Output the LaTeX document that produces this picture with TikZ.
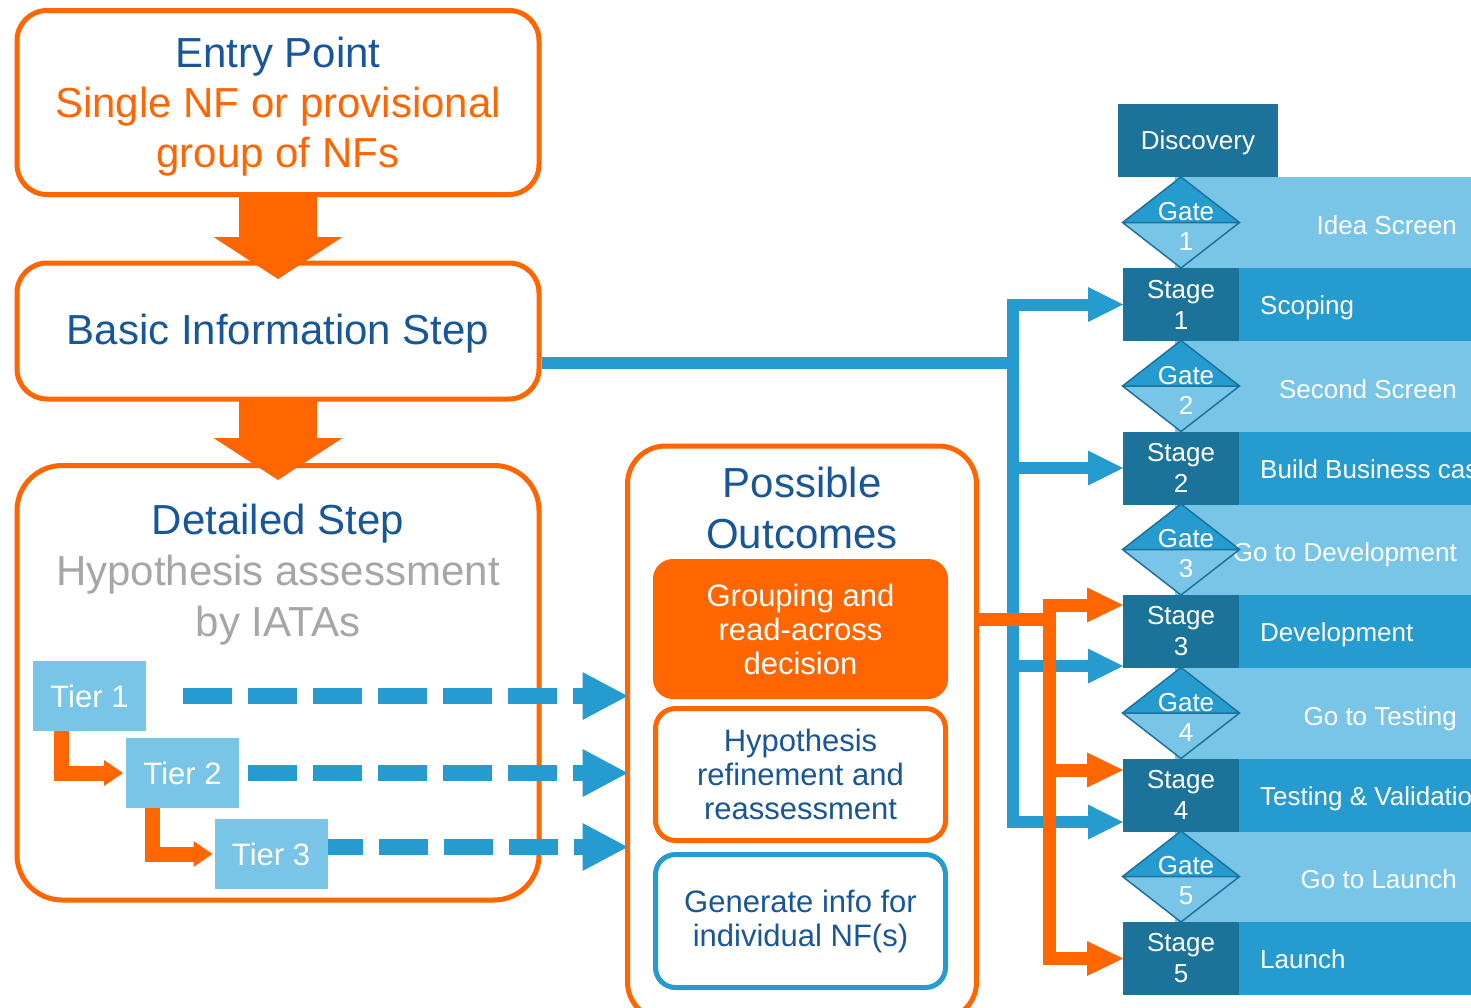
\documentclass[tikz,border=0pt]{standalone}
\usepackage{fontspec}
\setmainfont{Liberation Sans}
\usetikzlibrary{arrows.meta,calc,positioning}

\newcommand{\fs}[2]{\fontsize{#1}{#2}\selectfont}

\newcommand{\gaterow}[3]% centre y, number, label
{\fill[lightband] (1175,#1-45.5) rectangle (1471,#1+45.5);
\node[bandtext, anchor=east] (gl#2) at (1457,#1+5) {#3};
\fill[lightband] (1122.5,#1) -- (1181,#1+45.5) -- (1239.5,#1) -- cycle;
\fill[midband] (1122.5,#1) -- (1181,#1-45.5) -- (1239.5,#1) -- cycle;
\draw[gateline] (1122.5,#1) -- (1181,#1-45.5) -- (1239.5,#1) -- (1181,#1+45.5) -- cycle
  (1122.5,#1) -- (1239.5,#1);
\node[gatetext] (gate#2) at (1186,#1+4) {Gate\\#2};
}

\newcommand{\stagerow}[3]% centre y, number, label
{\fill[midband] (1239,#1-36.5) rectangle (1471,#1+36.5);
\node[stagebox] (st#2) at (1181,#1) {Stage\\#2};
\node[bandtext, anchor=west] (sl#2) at (1260,#1+3) {#3};
}

\begin{document}
\begin{tikzpicture}[x=1pt, y=-1pt,
  box/.style={draw=orng, line width=5pt, rounded corners=30pt, fill=white, outer sep=0pt},
  obox/.style={draw=orng, line width=5pt, rounded corners=20pt, fill=white, outer sep=0pt,
    minimum width=290pt, align=center, text=navy, font=\fs{31}{34}},
  bigtxt/.style={align=center, text=navy, font=\fs{42}{50}},
  tier/.style={fill=lightband, text=white, font=\fs{31}{31}, minimum width=113pt,
    minimum height=70pt, inner sep=0pt, outer sep=0pt},
  stagebox/.style={fill=darkband, text=white, font=\fs{26}{31}, align=center,
    minimum width=116pt, minimum height=73pt, inner sep=0pt, outer sep=0pt},
  gatetext/.style={text=white, font=\fs{26}{30}, align=center, inner sep=0pt},
  bandtext/.style={text=white, font=\fs{26}{30}, inner sep=0pt, text height=19pt, text depth=5pt},
  gateline/.style={draw=darkband, line width=1.5pt, line join=miter},
  bigarrow/.style={orng, line width=78pt, -{Triangle[length=42pt,width=129pt,line width=0pt]}},
  bline/.style={lineblue, line width=12pt},
  barrow/.style={lineblue, line width=12pt, -{Triangle[length=35pt,width=35pt,line width=0pt]}},
  oline/.style={orng, line width=13pt},
  oarrow/.style={orng, line width=13pt, -{Triangle[length=36pt,width=35pt,line width=0pt]}},
  tierline/.style={orng, line width=15pt, -{Triangle[length=19pt,width=26pt,line width=0pt]}},
  dashline/.style={lineblue, line width=16pt, dash pattern=on 49pt off 16pt,
    -{Triangle[length=45pt,width=48pt,line width=0pt]}}]

\definecolor{orng}{RGB}{255,102,0}
\definecolor{navy}{RGB}{25,86,152}
\definecolor{grey}{RGB}{166,166,166}
\definecolor{lineblue}{RGB}{37,155,208}
\definecolor{midband}{RGB}{37,155,208}
\definecolor{darkband}{RGB}{28,115,153}
\definecolor{lightband}{RGB}{120,197,232}

\useasboundingbox (0,0) rectangle (1471,1007);

% left column
\node[box, minimum width=522pt, minimum height=184pt] (entry) at (278,102.5) {};
\node[bigtxt] (entrytxt) at (278,107) {Entry Point\\\textcolor{orng}{Single NF or provisional}\\\textcolor{orng}{group of NFs}};
\node[box, minimum width=522pt, minimum height=136pt] (basic) at (278,331) {};
\node[bigtxt] (basictxt) at (278,334) {Basic Information Step};
\node[box, minimum width=522pt, minimum height=434.5pt, rounded corners=45pt] (detail) at (278,682.75) {};
\node[bigtxt, font=\fs{42}{51}] (detailtxt) at (278,575) {Detailed Step\\\textcolor{grey}{Hypothesis assessment}\\\textcolor{grey}{by IATAs}};

\draw[bigarrow] (entry.south) -- ($(basic.north)+(0,16)$);
\draw[bigarrow] (basic.south) -- ($(detail.north)+(0,14.5)$);

% outcomes
\node[box, minimum width=349pt, minimum height=574pt, rounded corners=38pt] (outcomes) at (802,733) {};
\node[bigtxt, font=\fs{42}{50.5}] (outtitle) at (802,508) {Possible\\Outcomes};
\node[obox, fill=orng, draw=none, text=white, minimum width=295pt, minimum height=140pt] (grp) at (800.5,629) {Grouping and\\read-across\\decision};
\node[obox, minimum height=132pt] (hyp) at (800.5,774.5) {Hypothesis\\refinement and\\reassessment};
\node[obox, draw=lineblue, minimum height=133pt] (gen) at (800.5,921) {Generate info for\\individual NF(s)};

% tiers
\node[tier] (t1) at (89.5,696) {Tier 1};
\node[tier] (t2) at (182.5,773) {Tier 2};
\node[tier] (t3) at (271,854) {Tier 3};

\draw[tierline] ($(t1.south west)+(28,0)$) |- ($(t2.west)+(-3,0)$);
\draw[tierline] ($(t2.south west)+(26,0)$) |- ($(t3.west)+(-2,0)$);

\draw[dashline] ($(t1.east)+(37,0)$) coordinate (d1) -- (d1 -| outcomes.west);
\draw[dashline, dash phase=56pt] (t2.east) coordinate (d2) -- (d2 -| outcomes.west);
\draw[dashline, dash phase=14pt] ($(t3.east)+(0,-7)$) coordinate (d3) -- (d3 -| outcomes.west);

% stage-gate column
\node[stagebox, minimum width=160pt, text depth=0pt] (disc) at (1198,140.5) {Discovery};
\gaterow{222.5}{1}{Idea Screen}
\gaterow{386}{2}{Second Screen}
\gaterow{549.5}{3}{Go to Development}
\gaterow{713}{4}{Go to Testing}
\gaterow{876.5}{5}{Go to Launch}
\stagerow{304.5}{1}{Scoping}
\stagerow{468}{2}{Build Business case}
\stagerow{631.5}{3}{Development}
\stagerow{795}{4}{Testing \& Validation}
\stagerow{958.5}{5}{Launch}

% connectors to stages
\coordinate (jb) at (1013,363);
\draw[bline] ($(basic.east)+(2.5,32)$) -- (jb);
\draw[barrow] (jb) |- (st1.west);
\draw[barrow] (jb) |- (st2.west);
\draw[barrow] (jb) |- ($(st3.west)+(0,34.5)$);
\draw[barrow] (jb) |- ($(st4.west)+(0,27)$);

\coordinate (jo) at (1049,619);
\draw[oline] (jo -| outcomes.east) -- (jo);
\draw[oarrow] (jo) |- ($(st3.west)+(0,-26.5)$);
\draw[oarrow] (jo) |- ($(st4.west)+(0,-25)$);
\draw[oarrow] (jo) |- (st5.west);

\end{tikzpicture}
\end{document}
